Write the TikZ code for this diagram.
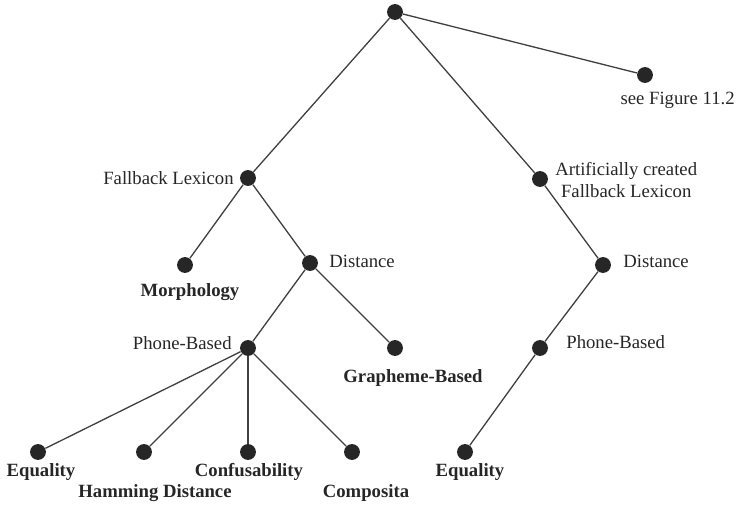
\documentclass[tikz,border=0pt]{standalone}
\usepackage{fontspec}
\setmainfont{Liberation Serif}
\usepackage{tikz}
\usepackage{xcolor}

\begin{document}
\begin{tikzpicture}[
            x=0.0188cm, y=-0.0188cm,
            dot/.style={circle, fill=black!85, inner sep=0pt, minimum size=8.5pt},
            edge/.style={draw=black!75, line width=0.7pt},
            lbl/.style={inner sep=0pt, font=\normalsize, text=black!85},
            leaf/.style={lbl, font=\normalsize\bfseries}
        ]
            \useasboundingbox (0,0) rectangle (738,505);

            % Dots
            \node[dot] (root) at (395,12) {};
            \node[dot] (figref) at (645,75) {};
            \node[dot] (fallback) at (248,178) {};
            \node[dot] (artificial) at (540,179) {};
            \node[dot] (morph) at (185,265) {};
            \node[dot] (distA) at (310,263) {};
            \node[dot] (distB) at (603,265) {};
            \node[dot] (phoneA) at (248,348) {};
            \node[dot] (grapheme) at (395,348) {};
            \node[dot] (phoneB) at (540,348) {};
            \node[dot] (equalA) at (38,452) {};
            \node[dot] (hamming) at (144,452) {};
            \node[dot] (confus) at (248,452) {};
            \node[dot] (composita) at (352,452) {};
            \node[dot] (equalB) at (465,452) {};

            % Labels
            \node[lbl, anchor=east] (figreflbl) at (735,100) {see Figure 11.2};
            \node[lbl, anchor=east] (fallbacklbl) at (234,178) {Fallback Lexicon};
            \node[lbl, anchor=west, align=center] (artificiallbl) at (555,180) {Artificially created\\Fallback Lexicon};
            \node[leaf] (morphlbl) at (190,292) {Morphology};
            \node[lbl, anchor=west] (distAlbl) at (329,261) {Distance};
            \node[lbl, anchor=west] (distBlbl) at (623,261) {Distance};
            \node[lbl, anchor=east] (phoneAlbl) at (232,343) {Phone-Based};
            \node[lbl, anchor=west] (phoneBlbl) at (566,342) {Phone-Based};
            \node[leaf] (graphemelbl) at (413,378) {Grapheme-Based};
            \node[leaf] (equalAlbl) at (41,472) {Equality};
            \node[leaf] (hamminglbl) at (155,493) {Hamming Distance};
            \node[leaf] (confuslbl) at (249,472) {Confusability};
            \node[leaf] (compositalbl) at (366,493) {Composita};
            \node[leaf] (equalBlbl) at (470,472) {Equality};

            % Connections
            \draw[edge] (root) -- (figref);
            \draw[edge] (root) -- (fallback);
            \draw[edge] (root) -- (artificial);
            \draw[edge] (fallback) -- (morph);
            \draw[edge] (fallback) -- (distA);
            \draw[edge] (distA) -- (phoneA);
            \draw[edge] (distA) -- (grapheme);
            \draw[edge] (phoneA) -- (equalA);
            \draw[edge] (phoneA) -- (hamming);
            \draw[edge] (phoneA) -- (confus);
            \draw[edge] (phoneA) -- (composita);
            \draw[edge] (artificial) -- (distB);
            \draw[edge] (distB) -- (phoneB);
            \draw[edge] (phoneB) -- (equalB);

        \end{tikzpicture}
\end{document}
